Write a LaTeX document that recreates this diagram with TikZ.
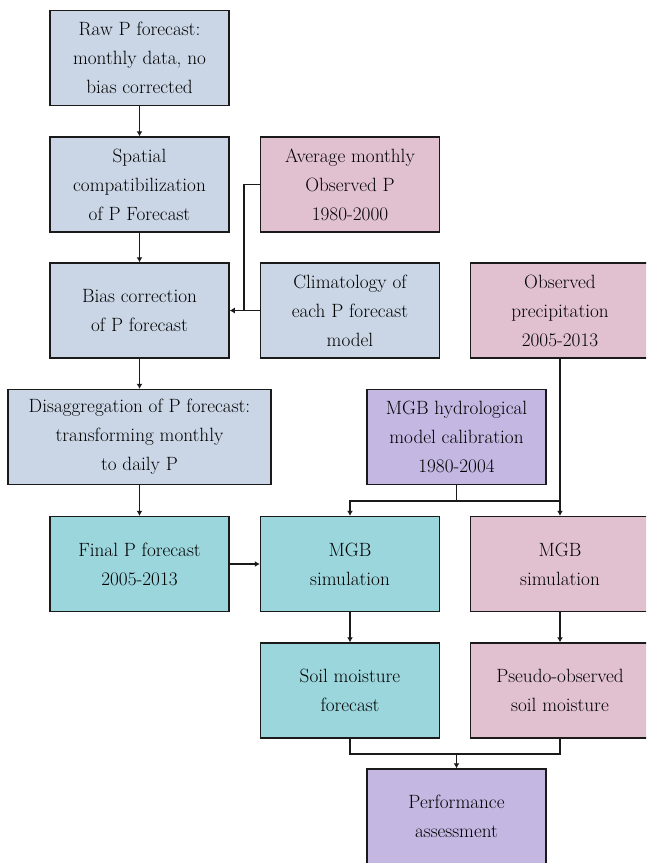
\documentclass[tikz,border=0pt]{standalone}
\usetikzlibrary{arrows.meta,calc}
\definecolor{cblue}{HTML}{CAD6E6}
\definecolor{cpink}{HTML}{E1C1D0}
\definecolor{cpurple}{HTML}{C4B7E2}
\definecolor{ccyan}{HTML}{9BD6DD}
\definecolor{cline}{HTML}{1A1A1A}
\begin{document}
\begin{tikzpicture}[x=1pt,y=-1pt,
  box/.style={draw=cline,line width=1.5pt,minimum width=179pt,minimum height=95pt,
    align=center,inner sep=2pt,font=\fontsize{19.2}{29}\selectfont},
  arr/.style={draw=cline,line width=1.3pt,-{Latex[length=5pt,width=6pt]}},
  ln/.style={draw=cline,line width=1.3pt}]
\clip (0,0) rectangle (646,863);
\fill[white] (0,0) rectangle (646,863);
\node[box,fill=cblue] (raw) at (139.5,58) {Raw P forecast:\\monthly data, no\\bias corrected};
\node[box,fill=cblue] (spatial) at (139.5,184.5) {Spatial\\compatibilization\\of P Forecast};
\node[box,fill=cpink] (avg) at (350,184.5) {Average monthly\\Observed P\\1980-2000};
\node[box,fill=cblue] (bias) at (139.5,310.5) {Bias correction\\of P forecast};
\node[box,fill=cblue] (clim) at (350,310.5) {Climatology of\\each P forecast\\model};
\node[box,fill=cpink] (obs) at (560,310.5) {Observed\\precipitation\\2005-2013};
\node[box,fill=cblue,minimum width=263pt] (disagg) at (139.5,437) {Disaggregation of P forecast:\\transforming monthly\\to daily P};
\node[box,fill=cpurple] (calib) at (456.5,437) {MGB hydrological\\model calibration\\1980-2004};
\node[box,fill=ccyan] (final) at (139.5,564) {Final P forecast\\2005-2013};
\node[box,fill=ccyan] (mgbA) at (350,564) {MGB\\simulation};
\node[box,fill=cpink] (mgbB) at (560,564) {MGB\\simulation};
\node[box,fill=ccyan] (soil) at (350,690.5) {Soil moisture\\forecast};
\node[box,fill=cpink] (pseudo) at (560,690.5) {Pseudo-observed\\soil moisture};
\node[box,fill=cpurple] (perf) at (456.5,816.5) {Performance\\assessment};
\coordinate (j1) at (244,310.5);
\coordinate (j2) at (456.5,501);
\coordinate (j3) at (456.5,754);
\draw[arr] (raw.south) -- (spatial.north);
\draw[arr] (spatial.south) -- (bias.north);
\draw[ln] (avg.west) -| (j1);
\draw[arr] (clim.west) -- (bias.east);
\draw[arr] (bias.south) -- (disagg.north);
\draw[arr] (disagg.south) -- (final.north);
\draw[arr] (final.east) -- (mgbA.west);
\draw[ln] (calib.south) -- (j2);
\draw[arr] (j2) -| (mgbA.north);
\draw[ln] (j2) -- (obs.south |- j2);
\draw[arr] (obs.south) -- (mgbB.north);
\draw[arr] (mgbA.south) -- (soil.north);
\draw[arr] (mgbB.south) -- (pseudo.north);
\draw[ln] (soil.south) |- (pseudo.south |- j3) -- (pseudo.south);
\draw[arr] (j3) -- (perf.north);
\end{tikzpicture}
\end{document}
